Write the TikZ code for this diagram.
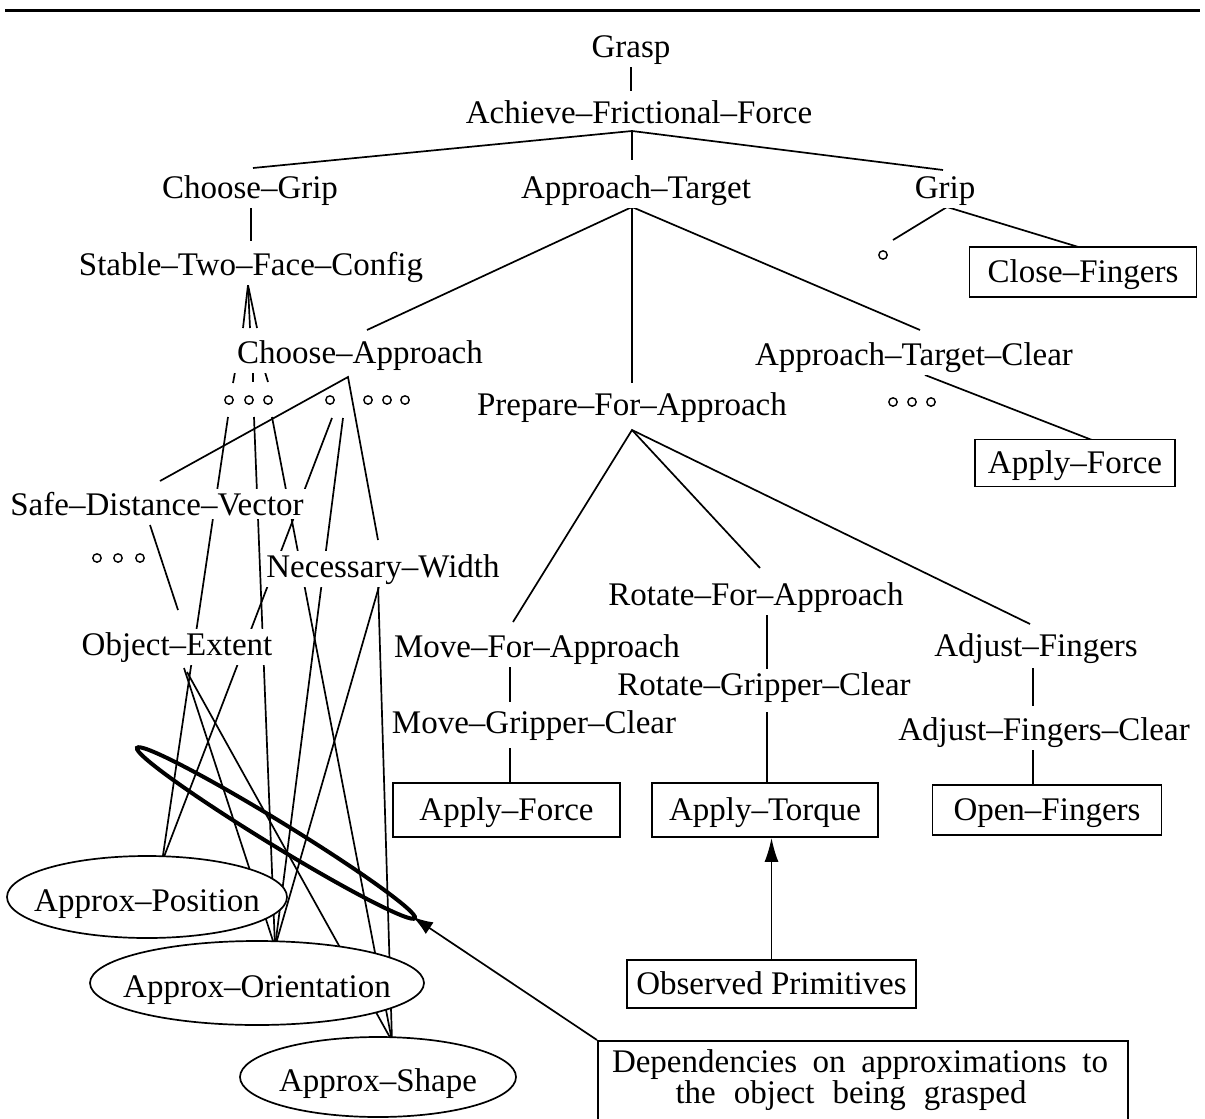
\documentclass[tikz,border=0pt]{standalone}
\usepackage{fontspec}
\setmainfont{Liberation Serif}
\usetikzlibrary{shapes.geometric,arrows.meta,backgrounds}
\begin{document}
\begin{tikzpicture}[x=0.5pt,y=-0.5pt,
  lbl/.style={font=\fontsize{16.5}{19}\selectfont, inner sep=1.5pt, fill=white, anchor=base},
  boxn/.style={draw, line width=0.85pt, fill=white, font=\fontsize{16.5}{19}\selectfont, inner sep=0pt, text height=13pt, text depth=2.2pt},
  ell/.style={ellipse, draw, line width=0.85pt, fill=white, inner sep=0pt, font=\fontsize{16.5}{19}\selectfont, text height=15pt, text depth=0.2pt},
  ring/.style={circle, draw, line width=0.7pt, inner sep=0pt, minimum size=4.2pt, fill=white},
  conn/.style={line width=0.85pt},
  loopline/.style={line width=2pt}]
\clip (0,0) rectangle (1205,1119);
\draw[line width=1.5pt] (5,10) -- (1200,10);

% ---------- labels ----------
\node[lbl] (grasp) at (631,57) {Grasp};
\node[lbl] (aff) at (639,123) {Achieve–Frictional–Force};
\node[lbl] (cgrip) at (250,198) {Choose–Grip};
\node[lbl] (apptgt) at (636,198) {Approach–Target};
\node[lbl] (grip) at (945,198) {Grip};
\node[lbl] (stfc) at (251,275) {Stable–Two–Face–Config};
\node[boxn, minimum width=113.5pt, minimum height=25pt] (cf) at (1083,272) {Close–Fingers};
\node[lbl] (capp) at (360,363) {Choose–Approach};
\node[lbl] (atc) at (914,365) {Approach–Target–Clear};
\node[lbl] (pfa) at (632,415) {Prepare–For–Approach};
\node[boxn, minimum width=100pt, minimum height=23.5pt] (afr) at (1075,463) {Apply–Force};
\node[lbl] (sdv) at (157,515) {Safe–Distance–Vector};
\node[lbl] (nw) at (383,577) {Necessary–Width};
\node[lbl] (rfa) at (756,605) {Rotate–For–Approach};
\node[lbl] (mfa) at (537,657) {Move–For–Approach};
\node[lbl] (oe) at (177,655) {Object–Extent};
\node[lbl] (af) at (1036,656) {Adjust–Fingers};
\node[lbl] (rgc) at (764,695) {Rotate–Gripper–Clear};
\node[lbl] (mgc) at (534,733) {Move–Gripper–Clear};
\node[lbl] (afc) at (1044,740) {Adjust–Fingers–Clear};
\node[boxn, minimum width=113.5pt, minimum height=27pt] (apf) at (506.5,810) {Apply–Force};
\node[boxn, minimum width=113pt, minimum height=27pt] (apt) at (765,810) {Apply–Torque};
\node[boxn, minimum width=114.5pt, minimum height=25pt] (opf) at (1047,810) {Open–Fingers};
\node[boxn, minimum width=144.5pt, minimum height=24pt] (obs) at (771.5,984) {Observed Primitives};
\node[ell, minimum width=140pt, minimum height=41pt] (ap) at (147,897) {\makebox[0pt]{Approx–Position}};
\node[ell, minimum width=167pt, minimum height=42pt] (ao) at (257,983) {\makebox[0pt]{Approx–Orientation}};
\node[ell, minimum width=138pt, minimum height=40pt] (as) at (378,1077) {\makebox[0pt]{Approx–Shape}};

% dependencies box
\node[draw, line width=0.85pt, anchor=north west, minimum width=265pt, minimum height=60pt, inner sep=0pt] (dep) at (597,1040) {};
\node[lbl, fill=none] (dep1) at (860,1072) {\makebox[248pt][s]{Dependencies on approximations to}};
\node[lbl, fill=none] (dep2) at (851,1103) {\makebox[175.5pt][s]{the object being grasped}};

% ---------- small rings ----------
\node[ring] (g1) at (883,255) {};
\node[ring] (r1) at (229,400) {};
\node[ring] (r2) at (249,400) {};
\node[ring] (r3) at (268,400) {};
\node[ring] (r4) at (330,400) {};
\node[ring] (r5) at (368,400) {};
\node[ring] (r6) at (387,400) {};
\node[ring] (r7) at (405,400) {};
\node[ring] (r8) at (893,402) {};
\node[ring] (r9) at (912,402) {};
\node[ring] (r10) at (931,402) {};
\node[ring] (r11) at (97,558) {};
\node[ring] (r12) at (118,558) {};
\node[ring] (r13) at (140,558) {};

% ---------- connector end points ----------
\coordinate (graspB) at (631,65);
\coordinate (affT) at (631,91);
\coordinate (affB) at (632,131);
\coordinate (cgripT) at (253,168);
\coordinate (atT) at (632,160);
\coordinate (gripT) at (943,170);
\coordinate (cgripB) at (251,205);
\coordinate (stfcT) at (251,241);
\coordinate (stfcB) at (248,285);
\coordinate (capT1) at (243,328);
\coordinate (capT2) at (250,328);
\coordinate (capT3) at (257,328);
\coordinate (atB) at (632,207);
\coordinate (capTR) at (367,330);
\coordinate (pfaT) at (632,383);
\coordinate (atcT) at (920,330);
\coordinate (gripB) at (947,207);
\coordinate (g1T) at (893,240);
\coordinate (cfT) at (1085,249);
\coordinate (atcB) at (925,375);
\coordinate (afrT) at (1092,440);
\coordinate (pfaB) at (632,430);
\coordinate (mfaT) at (513,622);
\coordinate (rfaT) at (760,568);
\coordinate (afT) at (1030,624);
\coordinate (mfaB) at (510,665);
\coordinate (mgcT) at (510,702);
\coordinate (mgcB) at (510,748);
\coordinate (rfaB) at (767,615);
\coordinate (rgcT) at (767,670);
\coordinate (rgcB) at (767,712);
\coordinate (afB) at (1033,668);
\coordinate (afcT) at (1033,706);
\coordinate (afcB) at (1033,750);
\coordinate (caA) at (348,377);
\coordinate (sdvT) at (160,481);
\coordinate (nwT) at (378,540);
\coordinate (t1a) at (235,372); \coordinate (t1b) at (233,383);
\coordinate (t2a) at (253,372); \coordinate (t2b) at (253,382);
\coordinate (t3a) at (265,372); \coordinate (t3b) at (268,382);
\coordinate (c1) at (228,417);
\coordinate (c2) at (254,417);
\coordinate (c3) at (272,417);
\coordinate (c4) at (332,418);
\coordinate (c5) at (343,418);
\coordinate (nwB1) at (378,583);
\coordinate (nwB2) at (380,583);
\coordinate (sdvB) at (150,525);
\coordinate (oeT) at (178,610);
\coordinate (oeB2) at (184,668);
\coordinate (oeB3) at (187,672);
\coordinate (apT) at (162,862);
\coordinate (aoT) at (275,947);
\coordinate (asT) at (392,1041);
\coordinate (looptip) at (413,917);

% ---------- connectors (under the labels) ----------
\begin{scope}[on background layer]
\draw[conn] (graspB) -- (affT);
\draw[conn] (cgripT) -- (affB) -- (gripT);
\draw[conn] (affB) -- (atT);
\draw[conn] (cgripB) -- (stfcT);
\draw[conn] (capT1) -- (stfcB) -- (capT3);
\draw[conn] (stfcB) -- (capT2);
\draw[conn] (capTR) -- (atB) -- (atcT);
\draw[conn] (atB) -- (pfaT);
\draw[conn] (g1T) -- (gripB) -- (cfT);
\draw[conn] (atcB) -- (afrT);
\draw[conn] (mfaT) -- (pfaB) -- (afT);
\draw[conn] (pfaB) -- (rfaT);
\draw[conn] (mfaB) -- (mgcT);
\draw[conn] (mgcB) -- (apf.north -| mgcB);
\draw[conn] (rfaB) -- (rgcT);
\draw[conn] (rgcB) -- (apt.north -| rgcB);
\draw[conn] (afB) -- (afcT);
\draw[conn] (afcB) -- (opf.north -| afcB);
\draw[conn] (sdvT) -- (caA) -- (nwT);
\draw[conn] (t1a) -- (t1b);
\draw[conn] (t2a) -- (t2b);
\draw[conn] (t3a) -- (t3b);
\draw[conn] (c1) -- (apT);
\draw[conn] (c4) -- (apT);
\draw[conn] (c2) -- (aoT);
\draw[conn] (c5) -- (aoT);
\draw[conn] (c3) -- (asT);
\draw[conn] (nwB1) -- (asT);
\draw[conn] (nwB2) -- (aoT);
\draw[conn] (sdvB) -- (oeT);
\draw[conn] (oeB2) -- (aoT);
\draw[conn] (oeB3) -- (asT);
\end{scope}

% ---------- arrows and loop ----------
\draw[conn, -{Latex[length=12pt,width=7pt]}] (obs.north) -- (apt.south -| obs.north);
\draw[loopline, rotate around={-31.5:(276,833)}] (276,833) ellipse [x radius=163, y radius=12];
\draw[conn, -{Latex[length=10pt,width=7pt]}] (dep.north west) -- (looptip);
\end{tikzpicture}
\end{document}
